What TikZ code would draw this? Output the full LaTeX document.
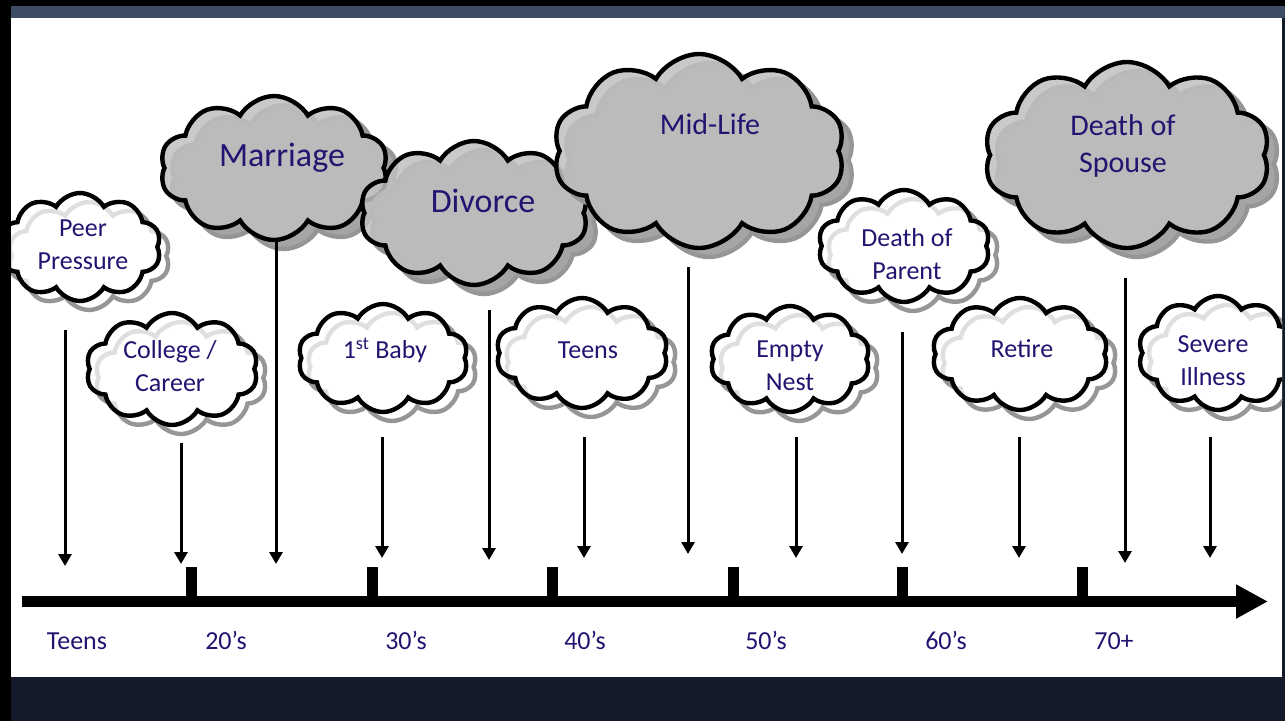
\documentclass[tikz,border=0pt]{standalone}
\usepackage{fontspec}
\setmainfont{Carlito}
\usetikzlibrary{shapes.symbols,arrows.meta}
\definecolor{txt}{RGB}{34,20,112}
\definecolor{navy}{RGB}{20,26,42}
\definecolor{strip}{RGB}{62,76,100}
\definecolor{cgray}{RGB}{192,192,192}
\definecolor{sgray}{RGB}{165,165,165}
\definecolor{sline}{RGB}{150,150,150}
\newcommand{\whitecloud}[5]{%
  \node[wshadow, minimum width=#4pt, minimum height=#5pt] (#1s) at (#2+9,#3+9) {};
  \node[wfront, minimum width=#4pt, minimum height=#5pt] (#1) at (#2,#3) {};}
\newcommand{\graycloud}[5]{%
  \node[gshadow, minimum width=#4pt, minimum height=#5pt] (#1s) at (#2+10,#3+9) {};
  \node[gfront, minimum width=#4pt, minimum height=#5pt] (#1) at (#2,#3) {};}
\begin{document}
\begin{tikzpicture}[x=1pt,y=-1pt,
  cl/.style={cloud, cloud puffs=10, cloud puff arc=120, aspect=1.5, inner sep=0pt, line width=4.4pt},
  wshadow/.style={cl, draw=sline, fill=white},
  wfront/.style={cl, draw=black, fill=white, fill opacity=0.7},
  gshadow/.style={cl, draw=sline, fill=sgray},
  gfront/.style={cl, draw=black, fill=cgray, fill opacity=0.85},
  lbl/.style={text=txt, align=center, inner sep=0pt, font=\fontsize{26}{33}\selectfont},
  big/.style={lbl, font=\fontsize{34}{38}\selectfont},
  mid/.style={lbl, font=\fontsize{30}{37}\selectfont},
  evarrow/.style={line width=3pt, -{Triangle[length=12pt,width=13pt]}},
  tickbox/.style={fill=black, inner sep=0pt, minimum width=11pt, minimum height=34pt},
  age/.style={lbl, anchor=base}]
\useasboundingbox (0,0) rectangle (1285,721);
% background
\fill[navy] (0,0) rectangle (1285,721);
\fill[black] (0,0) rectangle (1285,6);
\fill[strip] (11,6) rectangle (1285,18);
\fill[black] (0,0) rectangle (11,721);
\fill[white] (11,18) rectangle (1282,677);
\begin{scope}
\clip (11,18) rectangle (1282,677);
\whitecloud{peer}{80}{247}{162}{108}
\whitecloud{college}{172}{369}{172}{112}
\graycloud{marriage}{274}{168}{228}{144}
\whitecloud{baby}{383}{358}{170}{108}
\graycloud{divorce}{474}{213}{228}{144}
\whitecloud{teensc}{582}{353}{172}{110}
\graycloud{midlife}{699}{151}{292}{194}
\whitecloud{empty}{790}{359}{160}{106}
\whitecloud{parent}{904}{246}{172}{112}
\graycloud{spouse}{1127}{155}{286}{186}
\whitecloud{retire}{1020}{354}{176}{112}
\whitecloud{illness}{1218}{353}{160}{114}
\end{scope}
% cloud texts
\node[lbl] (tpeer) at (83,245) {Peer\\Pressure};
\node[lbl] (tcollege) at (170,366) {College /\\Career};
\node[big] (tmarriage) at (282,158) {Marriage};
\node[lbl] (tbaby) at (385,350) {1\textsuperscript{st} Baby};
\node[big] (tdivorce) at (483,201) {Divorce};
\node[lbl] (tteens) at (588,350) {Teens};
\node[mid] (tmidlife) at (710,124) {Mid-Life};
\node[lbl] (tempty) at (790,366) {Empty\\Nest};
\node[lbl] (tparent) at (907,254) {Death of\\Parent};
\node[mid] (tspouse) at (1123,146) {Death of\\Spouse};
\node[lbl] (tretire) at (1022,349) {Retire};
\node[lbl] (tillness) at (1213,361) {Severe\\Illness};
% event arrows
\foreach \n/\x/\ya/\yb in {1/65/330/566, 2/181/443/564, 3/276/238/564, 4/382/437/558, 5/489/310/560, 6/584/437/558, 7/688/267/554, 8/796/437/558, 9/902/332/554, 10/1019/437/558, 11/1125/278/563, 12/1210/437/558}{
  \coordinate (s\n) at (\x,\ya);
  \coordinate (e\n) at (\x,\yb);
  \draw[evarrow] (s\n) -- (e\n);
}
% timeline
\coordinate (tl0) at (22,601.5);
\coordinate (tl1) at (1268,601.5);
\draw[line width=11pt, -{Triangle[length=32pt,width=32pt]}] (tl0) -- (tl1);
\node[tickbox] (k20) at (191.5,584) {};
\node[tickbox] (k30) at (372,584) {};
\node[tickbox] (k40) at (552,584) {};
\node[tickbox] (k50) at (733,584) {};
\node[tickbox] (k60) at (902,584) {};
\node[tickbox] (k70) at (1082,584) {};
% ages
\node[age] (lteens) at (77,649) {Teens};
\node[age] (l20) at (226,649) {20’s};
\node[age] (l30) at (406,649) {30’s};
\node[age] (l40) at (585,649) {40’s};
\node[age] (l50) at (766,649) {50’s};
\node[age] (l60) at (946,649) {60’s};
\node[age] (l70) at (1114,649) {70+};
\end{tikzpicture}
\end{document}
